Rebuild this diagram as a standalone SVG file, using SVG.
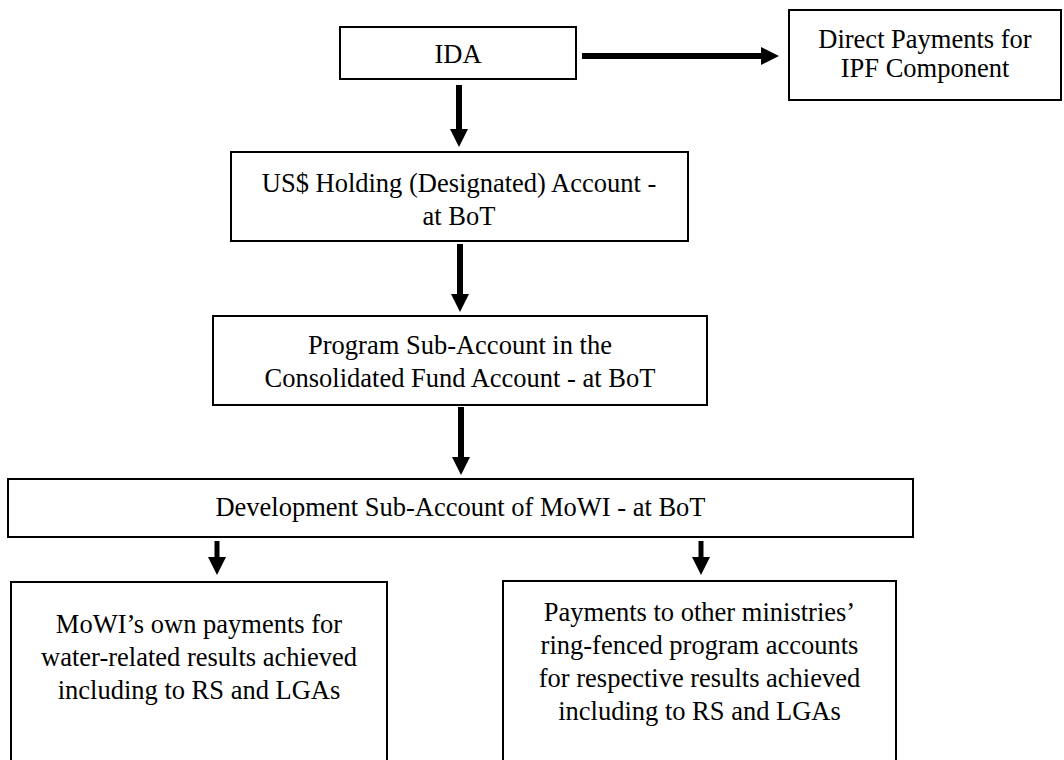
<svg xmlns="http://www.w3.org/2000/svg" width="1064" height="760" viewBox="0 0 1064 760">
<style>
.box{fill:#fff;stroke:#000;stroke-width:2}
.t{font-family:"Liberation Serif","Times New Roman",serif;font-size:26.5px;fill:#000;text-anchor:middle}
.c{stroke:#000;fill:none}
</style>
<defs>
<marker id="ah" markerUnits="userSpaceOnUse" markerWidth="18" markerHeight="18" refX="1" refY="9" orient="auto" viewBox="0 0 18 18">
<path d="M0,0 L18,9 L0,18 z" fill="#000"/>
</marker>
</defs>
<rect width="1064" height="760" fill="#fff"/>
<g id="connectors">
<line class="c" x1="582" y1="56" x2="762" y2="56" stroke-width="6" marker-end="url(#ah)"/>
<line class="c" x1="459" y1="85" x2="459" y2="130" stroke-width="6" marker-end="url(#ah)"/>
<line class="c" x1="460" y1="244" x2="460" y2="295" stroke-width="6" marker-end="url(#ah)"/>
<line class="c" x1="461" y1="407" x2="461" y2="458" stroke-width="6" marker-end="url(#ah)"/>
<line class="c" x1="217" y1="541" x2="217" y2="558" stroke-width="5" marker-end="url(#ah)"/>
<line class="c" x1="701" y1="541" x2="701" y2="558" stroke-width="5" marker-end="url(#ah)"/>
</g>
<g id="ida">
<rect class="box" x="340" y="27" width="236" height="52"/>
<text class="t" x="458" y="63">IDA</text>
</g>
<g id="direct">
<rect class="box" x="789" y="10" width="272" height="90"/>
<text class="t" x="925" y="48">Direct Payments for</text>
<text class="t" x="925" y="77">IPF Component</text>
</g>
<g id="holding">
<rect class="box" x="231" y="152" width="457" height="89"/>
<text class="t" x="459" y="192">US$ Holding (Designated) Account -</text>
<text class="t" x="459" y="225">at BoT</text>
</g>
<g id="program">
<rect class="box" x="213" y="316" width="494" height="89"/>
<text class="t" x="460" y="354">Program Sub-Account in the</text>
<text class="t" x="460" y="387">Consolidated Fund Account - at BoT</text>
</g>
<g id="development">
<rect class="box" x="8" y="479" width="905" height="58"/>
<text class="t" x="460.5" y="516">Development Sub-Account of MoWI - at BoT</text>
</g>
<g id="mowi">
<rect class="box" x="11" y="582" width="376" height="190"/>
<text class="t" x="199" y="633">MoWI’s own payments for</text>
<text class="t" x="199" y="666">water-related results achieved</text>
<text class="t" x="199" y="699">including to RS and LGAs</text>
</g>
<g id="others">
<rect class="box" x="503" y="581" width="393" height="190"/>
<text class="t" x="699.5" y="621">Payments to other ministries’</text>
<text class="t" x="699.5" y="654">ring-fenced program accounts</text>
<text class="t" x="699.5" y="687">for respective results achieved</text>
<text class="t" x="699.5" y="720">including to RS and LGAs</text>
</g>
</svg>
